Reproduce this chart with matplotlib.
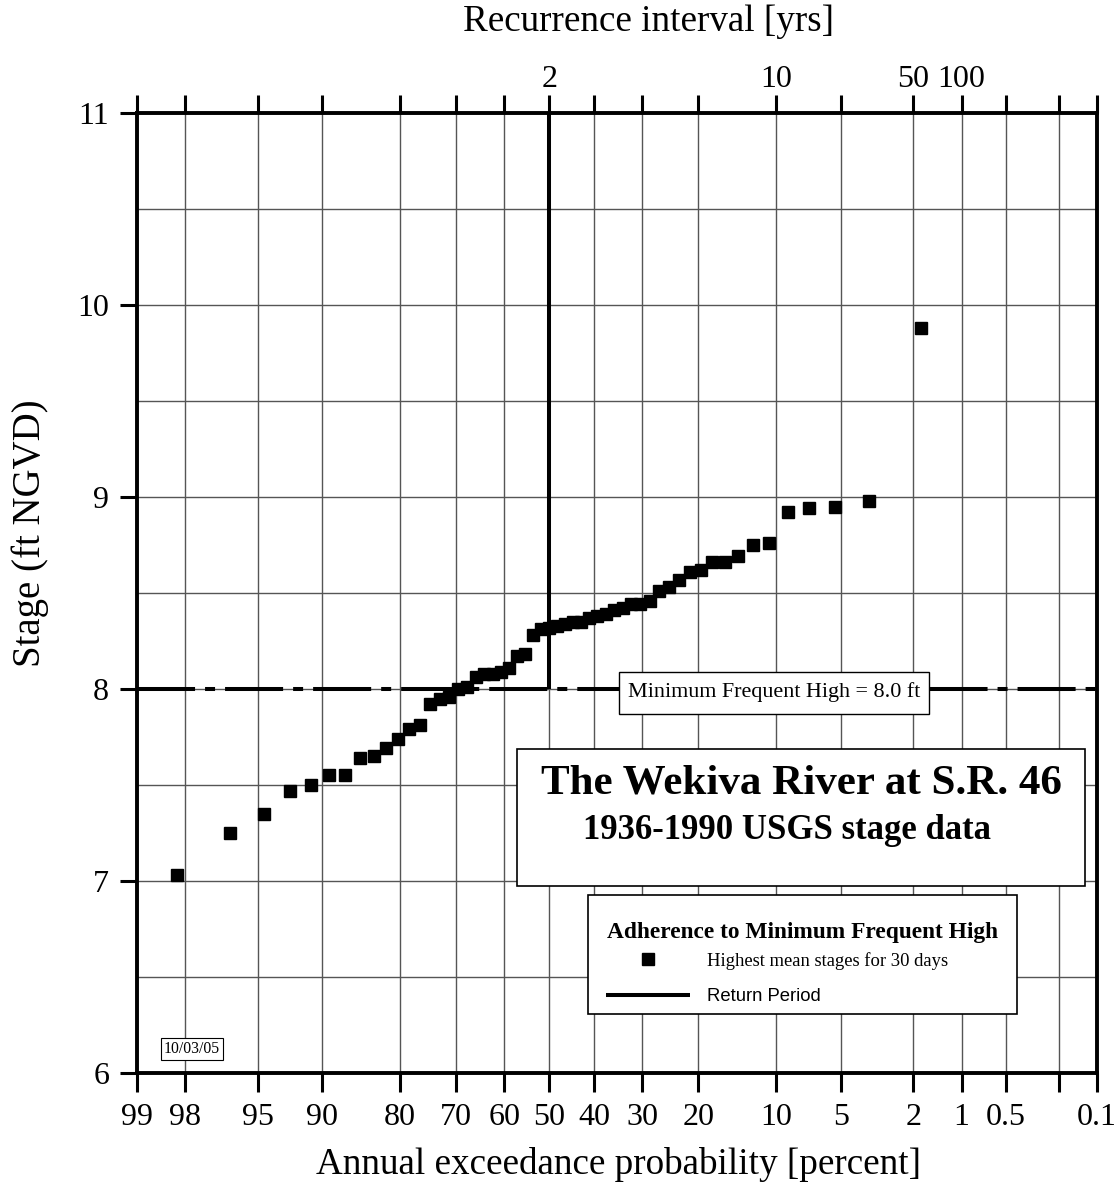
# -*- coding: utf-8 -*-
import numpy as np
import matplotlib
matplotlib.use('Agg')
import matplotlib.pyplot as plt
from matplotlib.patches import Rectangle
from statistics import NormalDist

plt.rcParams['font.family'] = ['Liberation Serif', 'DejaVu Serif']
plt.rcParams['lines.scale_dashes'] = False

# highest 30-day mean stages, 1936-1990, ranked high to low (ft NGVD)
stages = [9.88, 8.98, 8.95, 8.94, 8.92, 8.76, 8.75, 8.69, 8.66, 8.66,
          8.62, 8.61, 8.57, 8.53, 8.51, 8.46, 8.44, 8.44, 8.42, 8.41,
          8.39, 8.38, 8.37, 8.35, 8.35, 8.34, 8.33, 8.32, 8.31, 8.28,
          8.18, 8.17, 8.11, 8.09, 8.08, 8.08, 8.06, 8.01, 8.00, 7.96,
          7.95, 7.92, 7.81, 7.79, 7.74, 7.69, 7.65, 7.64, 7.55, 7.55,
          7.50, 7.47, 7.35, 7.25, 7.03]

prob_ticks = [99, 98, 95, 90, 80, 70, 60, 50, 40, 30, 20, 10, 5, 2, 1, 0.5, 0.2, 0.1]
prob_labels = ['99', '98', '95', '90', '80', '70', '60', '50', '40', '30',
               '20', '10', '5', '2', '1', '0.5', '', '0.1']
ri_labels = ['', '', '', '', '', '', '', '2', '', '', '', '10', '', '50', '100', '', '', '']

min_freq_high = 8.0   # ft
return_period = 2     # yrs

_nd = NormalDist()


def exc_to_z(p):
    p = np.clip(np.asarray(p, dtype=float), 1e-9, 100 - 1e-9)
    return np.vectorize(lambda q: _nd.inv_cdf(1 - q / 100.0), otypes=[float])(p)


def z_to_exc(z):
    z = np.asarray(z, dtype=float)
    return np.vectorize(lambda v: 100.0 * (1 - _nd.cdf(v)), otypes=[float])(z)


# Weibull plotting positions
n = len(stages)
exceed = 100.0 * np.arange(1, n + 1) / (n + 1)

fig = plt.figure(figsize=(11.2, 11.99), dpi=100)
ax = fig.add_axes([0.1223, 0.1051, 0.8571, 0.8007])
ax.set_xscale('function', functions=(exc_to_z, z_to_exc))
# scale is decreasing in p, so the limits go low->high here
ax.set_xlim(0.1, 99)
ax.set_ylim(6, 11)

ax.set_xticks(prob_ticks)
ax.set_xticklabels(prob_labels)
ax.set_yticks([6, 7, 8, 9, 10, 11])
ax.set_yticks(np.arange(6.5, 11, 1.0), minor=True)
ax.tick_params(axis='x', which='major', direction='out', length=13.5, width=2.2,
               labelsize=23, pad=8)
ax.tick_params(axis='y', which='major', direction='out', length=12, width=2.2,
               labelsize=23, pad=8)
ax.tick_params(axis='y', which='minor', length=0)
ax.grid(True, axis='x', which='major', color='#555555', lw=1.0)
ax.grid(True, axis='y', which='both', color='#555555', lw=1.0)
ax.set_axisbelow(True)
for s in ax.spines.values():
    s.set_linewidth(2.8)

# top axis: recurrence interval
ax2 = ax.twiny()
ax2.set_xscale('function', functions=(exc_to_z, z_to_exc))
ax2.set_xlim(0.1, 99)
ax2.set_xticks(prob_ticks)
ax2.set_xticklabels(ri_labels)
ax2.tick_params(axis='x', direction='out', length=13, width=2.2, labelsize=23, pad=1)
for s in ax2.spines.values():
    s.set_visible(False)

# minimum frequent high and return period
ax.axhline(min_freq_high, color='k', lw=2.9, dashes=(41.8, 7.2, 7.2, 7.2), zorder=3)
ret = ax.vlines(100.0 / return_period, min_freq_high, 11, color='k', lw=2.9,
                zorder=3, label='Return Period')
pts, = ax.plot(exceed, stages, 's', color='k', ms=8, ls='none', zorder=4,
               label='Highest mean stages for 30 days')

ax.add_patch(Rectangle((0.5021, 0.374), 0.3229, 0.0438, transform=ax.transAxes,
                       fc='white', ec='k', lw=1.0, zorder=5))
ax.text(0.6635, 0.3969, 'Minimum Frequent High = 8.0 ft', transform=ax.transAxes,
        ha='center', va='center', fontsize=15.9, zorder=6)

ax.text(0.0573, 0.025, '10/03/05', transform=ax.transAxes, ha='center', va='center',
        fontsize=11.3, zorder=6,
        bbox=dict(boxstyle='square,pad=0.2', fc='white', ec='k', lw=0.8))

# title box
ax.add_patch(Rectangle((0.3958, 0.1948), 0.5917, 0.1427, transform=ax.transAxes,
                       fc='white', ec='k', lw=1.2, zorder=5))
ax.text(0.6927, 0.302, 'The Wekiva River at S.R. 46', transform=ax.transAxes,
        ha='center', va='center', fontsize=31, fontweight='bold', zorder=6)
ax.text(0.6770, 0.253, '1936-1990 USGS stage data', transform=ax.transAxes,
        ha='center', va='center', fontsize=25, fontweight='bold', zorder=6)

# legend box
ax.add_patch(Rectangle((0.4698, 0.0615), 0.4469, 0.1240, transform=ax.transAxes,
                       fc='white', ec='k', lw=1.2, zorder=6))
ax.text(0.6932, 0.1460, 'Adherence to Minimum Frequent High', transform=ax.transAxes,
        ha='center', va='center', fontsize=16.8, fontweight='bold', zorder=7)
leg = ax.legend(handles=[pts, ret], loc='upper left', bbox_to_anchor=(0.4885, 0.1262),
                fontsize=13.4, frameon=False, handlelength=4.5, handletextpad=0.91,
                borderpad=0, labelspacing=1.0, borderaxespad=0)
leg.set_zorder(7)
leg.get_texts()[1].set_family('Liberation Sans')
leg.get_texts()[1].set_fontsize(13.3)

fig.text(648 / 1120, 1 - 22 / 1199, 'Recurrence interval [yrs]', ha='center',
         va='center', fontsize=26.7)
fig.text(619 / 1120, 1 - 1165 / 1199, 'Annual exceedance probability [percent]',
         ha='center', va='center', fontsize=26.7)
fig.text(30 / 1120, 1 - 533 / 1199, 'Stage (ft NGVD)', ha='center', va='center',
         rotation=90, fontsize=28)

fig.savefig('out.png', dpi=100)
